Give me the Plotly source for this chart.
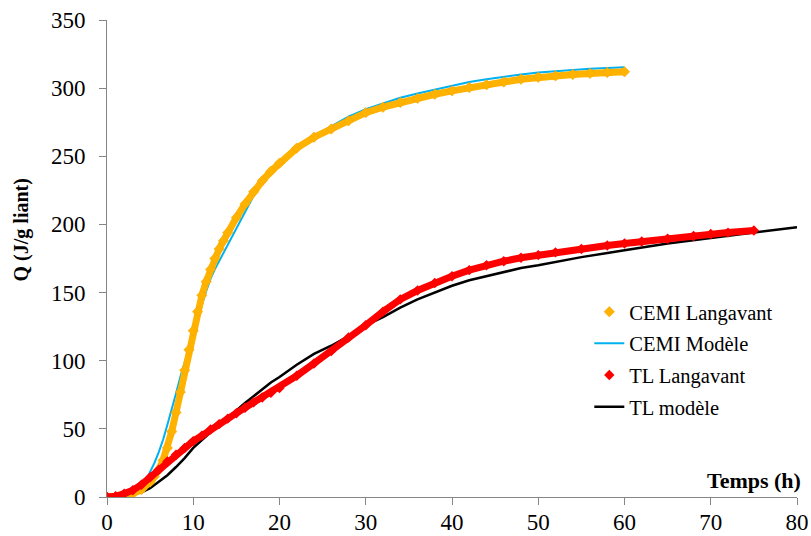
import plotly.graph_objects as go

# CEMI Langavant (measured)
cemi_x = [0, 1, 2, 3, 4, 5, 5.5, 6, 6.5, 7, 7.5, 8, 8.5, 9, 9.5, 10, 10.5, 11, 11.5, 12, 12.5,
          13, 13.5, 14, 15, 16, 17, 18, 19, 20, 22, 24, 26, 28, 30, 32, 34, 36, 38, 40, 42,
          44, 46, 48, 50, 52, 54, 56, 58, 60]
cemi_y = [0, 0.3, 1, 2.5, 5.5, 11, 15, 20, 27, 36, 48, 62, 77, 93, 108, 122, 136, 148, 158, 167, 175,
          182, 188, 194, 205, 215, 224, 232, 239, 245, 256, 264, 270, 276, 282, 286, 289.5, 292.5, 295.5, 298, 300.5,
          302.5, 304.5, 306.5, 308, 309, 310, 310.8, 311.5, 312]

# CEMI Modèle
cemim_x = [0, 1, 2, 3, 4, 4.5, 5, 5.5, 6, 6.5, 7, 7.5, 8, 8.5, 9, 9.5, 10, 10.5, 11, 11.5, 12, 12.5,
           13, 13.5, 14, 15, 16, 17, 18, 19, 20, 22, 24, 26, 28, 30, 32, 34, 36, 38, 40, 42,
           44, 46, 48, 50, 52, 54, 56, 58, 60]
cemim_y = [0, 0.2, 0.8, 2.5, 7, 12, 18, 25, 33, 42, 53, 64, 76, 88, 99, 109, 120, 131, 141, 151, 160, 167,
           173, 179, 185, 198, 210, 221, 231, 239, 246, 256, 265, 272, 279, 284.5, 289, 293, 296, 299, 302, 304.5,
           306.5, 308.5, 310, 311.5, 312.5, 313.5, 314.2, 314.8, 315.3]

# TL Langavant (measured)
tl_x = [0, 1, 2, 3, 4, 5, 6, 7, 8, 9, 10, 11, 12, 13, 14, 15, 16, 17, 18, 19, 20, 22, 24, 26, 28,
        30, 32, 34, 36, 38, 40, 42, 44, 46, 48, 50, 52, 55, 58, 60, 62, 65, 68, 70, 72, 75]
tl_y = [0, 0.5, 2.5, 5, 9, 14.5, 20, 26, 31, 36, 41, 45, 49.5, 53.5, 57.5, 61.5, 65.5, 69.5, 73, 76.5, 80, 89, 98, 107, 117,
        126, 136, 145, 151.5, 157, 162, 166.5, 170, 173, 175.5, 177.5, 179.5, 182, 184.5, 186, 187.5, 189.5, 191.5, 193, 194, 195.5]

# TL modèle
tlm_x = [0, 1, 2, 3, 4, 5, 6, 7, 8, 9, 10, 11, 12, 13, 14, 15, 16, 17, 18, 19, 20, 22, 24, 26, 28,
         30, 32, 34, 36, 38, 40, 42, 44, 46, 48, 50, 55, 60, 65, 70, 75, 80]
tlm_y = [0, 0.2, 0.8, 2, 3.5, 6.5, 11, 16, 22, 28.5, 36, 42, 47.5, 52.5, 58, 64, 69, 74, 79, 84, 88, 97, 105, 111, 118,
         126, 132, 139, 145, 150, 155, 159, 162, 165, 168, 170, 176, 181, 186, 190, 194, 198]

x_ticks = [0, 10, 20, 30, 40, 50, 60, 70, 80]
y_ticks = [0, 50, 100, 150, 200, 250, 300, 350]

ORANGE = "#FFB300"
ORANGE_EDGE = "#F7A000"
BLUE = "#00B0F0"
RED = "#FF0000"
BLACK = "#000000"
FONT = "Liberation Serif, Times New Roman, serif"

fig = go.Figure()

# models (drawn below the measurements)
fig.add_trace(go.Scatter(x=cemim_x, y=cemim_y, mode="lines", name="CEMI Modèle",
                         line=dict(color=BLUE, width=2), legendrank=2, legendgroup="b"))
fig.add_trace(go.Scatter(x=tlm_x, y=tlm_y, mode="lines", name="TL modèle",
                         line=dict(color=BLACK, width=2.5), legendrank=4, legendgroup="d"))

# measurement bands
fig.add_trace(go.Scatter(x=cemi_x, y=cemi_y, mode="lines", showlegend=False, hoverinfo="skip",
                         line=dict(color=ORANGE, width=7)))
fig.add_trace(go.Scatter(x=cemi_x, y=cemi_y, mode="markers", name="CEMI Langavant",
                         marker=dict(symbol="diamond", size=8, color=ORANGE,
                                     line=dict(color=ORANGE_EDGE, width=0.5)),
                         legendrank=1, legendgroup="a"))
fig.add_trace(go.Scatter(x=tl_x, y=tl_y, mode="lines", showlegend=False, hoverinfo="skip",
                         line=dict(color=RED, width=7)))
fig.add_trace(go.Scatter(x=tl_x, y=tl_y, mode="markers", name="TL Langavant",
                         marker=dict(symbol="diamond", size=8, color=RED),
                         legendrank=3, legendgroup="c"))

axis_common = dict(showline=True, linecolor="#868686", linewidth=1, ticks="outside",
                   ticklen=7, tickcolor="#868686", showgrid=False, zeroline=False,
                   automargin=False,
                   tickfont=dict(family=FONT, size=23, color="#000000"))

fig.update_layout(
    width=811, height=536,
    margin=dict(l=107, r=14, t=20, b=39),
    paper_bgcolor="white", plot_bgcolor="white",
    font=dict(family=FONT, color="#000000"),
    xaxis=dict(range=[0, 80], tickvals=x_ticks, ticklabelstandoff=-3, **axis_common),
    yaxis=dict(range=[0, 350], tickvals=y_ticks, ticklabelstandoff=9, **axis_common),
    legend=dict(x=0.699, y=0.43, xanchor="left", yanchor="top",
                font=dict(family=FONT, size=20.5), bgcolor="rgba(0,0,0,0)",
                tracegroupgap=2, traceorder="grouped", itemwidth=30),
    showlegend=True,
)

fig.add_annotation(text="<b>Q (J/g liant)</b>", xref="paper", yref="paper",
                   x=-0.124, y=(497 - 230) / 477, xanchor="center", yanchor="middle",
                   textangle=-90, showarrow=False,
                   font=dict(family=FONT, size=20, color="#000000"))

fig.add_annotation(text="<b>Temps (h)</b>", xref="paper", yref="paper", x=1.0087, y=(497 - 480) / 477,
                   xanchor="right", yanchor="middle", showarrow=False,
                   font=dict(family=FONT, size=22, color="#000000"))

fig.write_html("out.html", config={"displayModeBar": False},
               post_script="document.body.style.margin='0px';document.body.style.overflow='hidden';")
